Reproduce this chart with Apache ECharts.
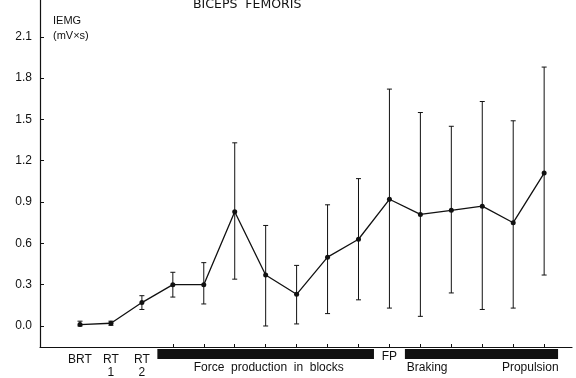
<!DOCTYPE html>
<html>
<head>
<meta charset="utf-8">
<script src="https://cdn.jsdelivr.net/npm/echarts@6/dist/echarts.min.js"></script>
<style>
  html, body { margin: 0; padding: 0; background: #fff; }
  #chart { width: 576px; height: 378px; }
</style>
</head>
<body>
<div id="chart"></div>
<script>
// x positions of the 16 measurement phases
const positions = [1, 2, 3, 4, 5, 6, 7, 8, 9, 10, 11, 12, 13, 14, 15, 16];
// IEMG means and error bar ends (mV x s)
const means = [0.01, 0.02, 0.17, 0.30, 0.30, 0.83, 0.37, 0.23, 0.50, 0.63, 0.92, 0.81, 0.84, 0.87, 0.75, 1.11];
const lows  = [0.00, 0.005, 0.12, 0.21, 0.16, 0.34, 0.00, 0.015, 0.09, 0.19, 0.13, 0.07, 0.24, 0.12, 0.13, 0.37];
const highs = [0.035, 0.035, 0.22, 0.39, 0.46, 1.33, 0.73, 0.44, 0.88, 1.07, 1.72, 1.55, 1.45, 1.63, 1.49, 1.88];

const yTicks = [0, 0.3, 0.6, 0.9, 1.2, 1.5, 1.8, 2.1];
const xTicks = [4, 5, 6, 7, 8, 9, 10, 11, 12, 13, 14, 15, 16];
const xLabelPos = [1, 2, 3];
const xLabels = ["BRT", "RT\n1", "RT\n2"];

// black phase bars under the axis
const barStarts = [3.5, 11.5];
const barEnds = [10.5, 16.45];
// phase texts: position, text, row (0 = inside bar row, 1 = below)
const phaseTextPos = [7.1, 11.0, 12.22, 15.55];
const phaseTexts = ["Force  production  in  blocks", "FP", "Braking", "Propulsion"];
const phaseTextRow = [1, 0, 1, 1];

const Y_MIN = -0.1525, Y_MAX = 2.367;
const FONT = "Liberation Sans";
const INK = "#111";

const chart = echarts.init(document.getElementById("chart"));

chart.setOption({
  backgroundColor: "#fff",
  animation: false,
  textStyle: { fontFamily: FONT, color: INK },
  title: {
    text: "BICEPS  FEMORIS",
    left: 188,
    top: -7,
    textStyle: { fontSize: 12.5, fontWeight: "normal", color: INK, fontFamily: "DejaVu Sans" }
  },
  graphic: [
    { type: "text", left: 53, top: 15, style: { text: "IEMG", fontSize: 11, fill: INK, fontFamily: FONT } },
    { type: "text", left: 53, top: 30, style: { text: "(mV\u00d7s)", fontSize: 11, fill: INK, fontFamily: FONT } }
  ],
  grid: { left: 40, right: 4, top: 0, bottom: 31, containLabel: false, outerBoundsMode: "none" },
  xAxis: {
    type: "value",
    min: -0.293,
    max: 16.9,
    splitLine: { show: false },
    axisLine: { show: true, onZero: false, lineStyle: { color: INK, width: 1.2 } },
    axisTick: { show: true, inside: true, length: 3, customValues: xTicks, lineStyle: { color: INK } },
    axisLabel: {
      show: true,
      customValues: xLabelPos,
      margin: 6,
      fontSize: 12,
      lineHeight: 13,
      color: INK,
      formatter: v => xLabels[xLabelPos.indexOf(v)] || ""
    }
  },
  yAxis: {
    type: "value",
    min: Y_MIN,
    max: Y_MAX,
    splitLine: { show: false },
    axisLine: { show: true, onZero: false, lineStyle: { color: INK, width: 1.2 } },
    axisTick: { show: true, inside: true, length: 4, customValues: yTicks, lineStyle: { color: INK } },
    axisLabel: {
      customValues: yTicks,
      fontSize: 12,
      margin: 8,
      color: INK,
      formatter: v => v.toFixed(1)
    }
  },
  series: [
    {
      type: "custom",
      name: "errors",
      data: positions.map((p, i) => [p, lows[i], highs[i]]),
      renderItem: (params, api) => {
        const x = api.value(0);
        const lo = api.coord([x, api.value(1)]);
        const hi = api.coord([x, api.value(2)]);
        const w = 2.5;
        const st = { stroke: INK, lineWidth: 1 };
        return {
          type: "group",
          children: [
            { type: "line", shape: { x1: lo[0], y1: lo[1], x2: hi[0], y2: hi[1] }, style: st },
            { type: "line", shape: { x1: lo[0] - w, y1: lo[1], x2: lo[0] + w, y2: lo[1] }, style: st },
            { type: "line", shape: { x1: hi[0] - w, y1: hi[1], x2: hi[0] + w, y2: hi[1] }, style: st }
          ]
        };
      },
      z: 2
    },
    {
      type: "line",
      name: "mean",
      data: positions.map((p, i) => [p, means[i]]),
      symbol: "circle",
      symbolSize: 5,
      lineStyle: { color: INK, width: 1.3 },
      itemStyle: { color: INK },
      z: 3
    },
    {
      type: "custom",
      name: "phaseBars",
      clip: false,
      data: barStarts.map((s, i) => [s, barEnds[i]]),
      renderItem: (params, api) => {
        const a = api.coord([api.value(0), Y_MIN]);
        const b = api.coord([api.value(1), Y_MIN]);
        return {
          type: "rect",
          shape: { x: a[0], y: a[1] + 2, width: b[0] - a[0], height: 10 },
          style: { fill: INK }
        };
      }
    },
    {
      type: "custom",
      name: "phaseTexts",
      clip: false,
      data: phaseTextPos.map((p, i) => [p, phaseTextRow[i]]),
      renderItem: (params, api) => {
        const c = api.coord([api.value(0), Y_MIN]);
        const row = api.value(1);
        return {
          type: "text",
          x: c[0],
          y: c[1] + (row === 0 ? 10 : 21),
          style: {
            text: phaseTexts[params.dataIndex],
            fontSize: 12,
            fontFamily: FONT,
            fill: INK,
            align: "center",
            verticalAlign: "middle"
          }
        };
      }
    }
  ]
});
</script>
</body>
</html>
